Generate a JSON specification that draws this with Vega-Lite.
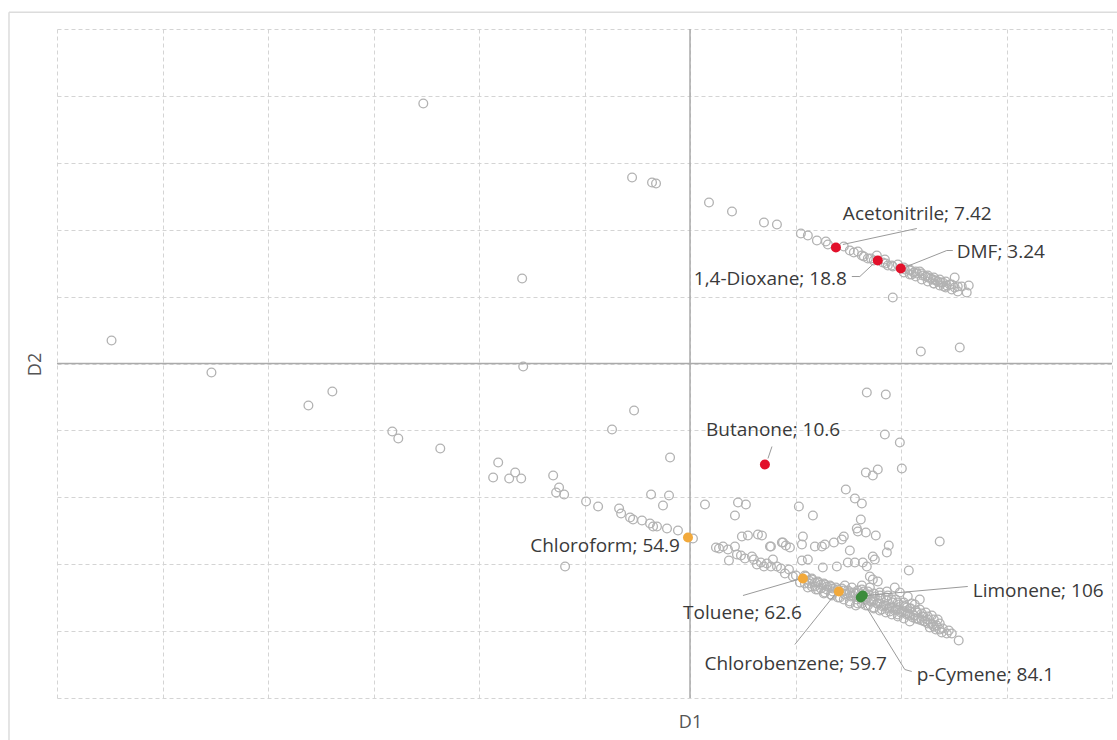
{
  "$schema": "https://vega.github.io/schema/vega-lite/v6.json",
  "width": 1055,
  "height": 669,
  "autosize": {"type": "none"},
  "padding": {"left": 57, "top": 29, "right": 5, "bottom": 42},
  "background": "white",
  "config": {"view": {"stroke": null}},
  "datasets": {
    "points": [
      {"x": -5.483, "y": 0.344}, {"x": -4.536, "y": -0.135}, {"x": -3.617, "y": -0.628}, {"x": -3.39, "y": -0.419},
      {"x": -2.528, "y": 3.886}, {"x": -1.591, "y": 1.271}, {"x": -1.581, "y": -0.045}, {"x": -2.822, "y": -1.016},
      {"x": -2.765, "y": -1.121}, {"x": -2.367, "y": -1.271}, {"x": -1.818, "y": -1.48}, {"x": -1.866, "y": -1.704},
      {"x": -1.714, "y": -1.719}, {"x": -1.657, "y": -1.629}, {"x": -1.6, "y": -1.719}, {"x": -1.297, "y": -1.674},
      {"x": -1.241, "y": -1.853}, {"x": -1.269, "y": -1.928}, {"x": -1.193, "y": -1.958}, {"x": -0.985, "y": -2.063},
      {"x": -0.871, "y": -2.138}, {"x": -0.739, "y": -0.987}, {"x": -0.53, "y": -0.703}, {"x": -0.189, "y": -1.405},
      {"x": -0.369, "y": -1.958}, {"x": -0.199, "y": -1.973}, {"x": -0.256, "y": -2.123}, {"x": -0.672, "y": -2.167},
      {"x": -0.653, "y": -2.242}, {"x": -0.568, "y": -2.302}, {"x": -0.54, "y": -2.332}, {"x": -0.455, "y": -2.347},
      {"x": -0.379, "y": -2.392}, {"x": -0.35, "y": -2.436}, {"x": -0.313, "y": -2.436}, {"x": -0.218, "y": -2.466},
      {"x": -0.114, "y": -2.496}, {"x": -1.184, "y": -3.034}, {"x": 0.028, "y": -2.616},
      {"x": -0.549, "y": 2.78}, {"x": -0.36, "y": 2.706}, {"x": -0.322, "y": 2.691}, {"x": 0.18, "y": 2.407},
      {"x": 0.398, "y": 2.272}, {"x": 0.701, "y": 2.108}, {"x": 0.824, "y": 2.078}, {"x": 1.051, "y": 1.943},
      {"x": 1.117, "y": 1.913}, {"x": 1.203, "y": 1.839}, {"x": 1.288, "y": 1.824}, {"x": 1.307, "y": 1.779},
      {"x": 1.458, "y": 1.749}, {"x": 1.515, "y": 1.689}, {"x": 1.553, "y": 1.659}, {"x": 1.591, "y": 1.674},
      {"x": 1.714, "y": 1.57}, {"x": 1.771, "y": 1.614}, {"x": 1.828, "y": 1.51}, {"x": 1.875, "y": 1.465},
      {"x": 1.922, "y": 1.45}, {"x": 1.97, "y": 1.48}, {"x": 2.036, "y": 1.405}, {"x": 2.083, "y": 1.39},
      {"x": 2.121, "y": 1.36}, {"x": 2.15, "y": 1.345}, {"x": 2.178, "y": 1.375}, {"x": 2.206, "y": 1.315},
      {"x": 2.235, "y": 1.3}, {"x": 2.254, "y": 1.286}, {"x": 2.282, "y": 1.271}, {"x": 2.301, "y": 1.256},
      {"x": 2.33, "y": 1.241}, {"x": 2.348, "y": 1.226}, {"x": 2.377, "y": 1.211}, {"x": 2.396, "y": 1.211},
      {"x": 2.434, "y": 1.166}, {"x": 2.462, "y": 1.181}, {"x": 2.509, "y": 1.286}, {"x": 2.509, "y": 1.136},
      {"x": 2.576, "y": 1.151}, {"x": 2.642, "y": 1.166}, {"x": 2.623, "y": 1.061}, {"x": 1.922, "y": 0.987},
      {"x": 2.188, "y": 0.179}, {"x": 2.557, "y": 0.239}, {"x": 2.102, "y": 1.33}, {"x": 2.311, "y": 1.196},
      {"x": 2.405, "y": 1.151}, {"x": 1.847, "y": 1.555}, {"x": 1.648, "y": 1.599},
      {"x": 2.027, "y": 1.435}, {"x": 2.027, "y": 1.36}, {"x": 2.083, "y": 1.405}, {"x": 2.083, "y": 1.33},
      {"x": 2.14, "y": 1.375}, {"x": 2.14, "y": 1.3}, {"x": 2.197, "y": 1.345}, {"x": 2.197, "y": 1.256},
      {"x": 2.254, "y": 1.315}, {"x": 2.254, "y": 1.226}, {"x": 2.311, "y": 1.286}, {"x": 2.311, "y": 1.196},
      {"x": 2.367, "y": 1.256}, {"x": 2.367, "y": 1.166}, {"x": 2.424, "y": 1.226}, {"x": 2.424, "y": 1.136},
      {"x": 2.481, "y": 1.181}, {"x": 2.481, "y": 1.106}, {"x": 2.538, "y": 1.151}, {"x": 2.538, "y": 1.076},
      {"x": 1.629, "y": 1.614}, {"x": 1.686, "y": 1.57}, {"x": 1.742, "y": 1.54}, {"x": 1.856, "y": 1.495},
      {"x": 1.913, "y": 1.465},
      {"x": 1.676, "y": -0.433}, {"x": 1.856, "y": -0.463}, {"x": 1.847, "y": -1.061}, {"x": 1.989, "y": -1.181},
      {"x": 2.008, "y": -1.57}, {"x": 1.667, "y": -1.629}, {"x": 1.733, "y": -1.674}, {"x": 1.78, "y": -1.584},
      {"x": 1.477, "y": -1.883}, {"x": 1.563, "y": -2.018}, {"x": 1.629, "y": -2.093}, {"x": 1.619, "y": -2.332},
      {"x": 1.581, "y": -2.466}, {"x": 1.591, "y": -2.511}, {"x": 1.667, "y": -2.526}, {"x": 1.761, "y": -2.571},
      {"x": 2.367, "y": -2.661}, {"x": 1.032, "y": -2.138}, {"x": 1.165, "y": -2.272}, {"x": 1.439, "y": -2.631},
      {"x": 1.458, "y": -2.586}, {"x": 1.364, "y": -2.676}, {"x": 1.278, "y": -2.706}, {"x": 1.184, "y": -2.735},
      {"x": 1.25, "y": -2.735}, {"x": 1.07, "y": -2.586}, {"x": 1.061, "y": -2.706}, {"x": 0.947, "y": -2.75},
      {"x": 0.881, "y": -2.676}, {"x": 0.758, "y": -2.735}, {"x": 1.515, "y": -2.795}, {"x": 1.866, "y": -2.825},
      {"x": 1.884, "y": -2.72}, {"x": 1.733, "y": -2.885}, {"x": 1.752, "y": -2.93}, {"x": 1.638, "y": -2.975},
      {"x": 1.676, "y": -3.034}, {"x": 1.563, "y": -2.975}, {"x": 1.496, "y": -2.975}, {"x": 1.392, "y": -3.034},
      {"x": 1.259, "y": -3.049}, {"x": 1.117, "y": -2.93}, {"x": 1.061, "y": -2.945}, {"x": 2.074, "y": -3.094},
      {"x": 1.705, "y": -3.184}, {"x": 1.733, "y": -3.229}, {"x": 1.78, "y": -3.259}, {"x": 1.941, "y": -3.348},
      {"x": 1.866, "y": -3.408}, {"x": 1.989, "y": -3.423}, {"x": 2.064, "y": -3.483}, {"x": 2.131, "y": -3.602},
      {"x": 2.178, "y": -3.528}, {"x": 2.055, "y": -3.647}, {"x": 2.15, "y": -3.722}, {"x": 2.206, "y": -3.782},
      {"x": 2.254, "y": -3.827}, {"x": 2.301, "y": -3.901}, {"x": 2.386, "y": -4.021}, {"x": 2.434, "y": -4.036},
      {"x": 2.481, "y": -4.036}, {"x": 2.547, "y": -4.14}, {"x": 0.142, "y": -2.108}, {"x": 0.455, "y": -2.078},
      {"x": 0.53, "y": -2.108}, {"x": 0.426, "y": -2.272}, {"x": 0.492, "y": -2.586}, {"x": 0.549, "y": -2.571},
      {"x": 0.644, "y": -2.556}, {"x": 0.682, "y": -2.571}, {"x": 0.767, "y": -2.735}, {"x": 0.871, "y": -2.676},
      {"x": 0.909, "y": -2.72}, {"x": 0.246, "y": -2.75}, {"x": 0.275, "y": -2.765}, {"x": 0.313, "y": -2.735},
      {"x": 0.36, "y": -2.78}, {"x": 0.426, "y": -2.735}, {"x": 0.445, "y": -2.855}, {"x": 0.483, "y": -2.87},
      {"x": 0.369, "y": -2.945}, {"x": 0.587, "y": -2.885}, {"x": 0.606, "y": -2.93}, {"x": 0.672, "y": -2.975},
      {"x": 0.729, "y": -2.99}, {"x": 0.786, "y": -2.93}, {"x": 0.767, "y": -3.034}, {"x": 0.824, "y": -3.034},
      {"x": 0.862, "y": -3.064}, {"x": 0.938, "y": -3.079}, {"x": 0.975, "y": -3.184}, {"x": 0.521, "y": -2.915},
      {"x": 0.634, "y": -3.004}, {"x": 0.701, "y": -3.034}, {"x": 0.9, "y": -3.139},
      {"x": 1.004, "y": -3.169}, {"x": 1.042, "y": -3.274}, {"x": 1.098, "y": -3.184}, {"x": 1.127, "y": -3.288},
      {"x": 1.155, "y": -3.229}, {"x": 1.184, "y": -3.333}, {"x": 1.212, "y": -3.259}, {"x": 1.241, "y": -3.363},
      {"x": 1.269, "y": -3.288}, {"x": 1.297, "y": -3.378}, {"x": 1.326, "y": -3.318}, {"x": 1.354, "y": -3.408},
      {"x": 1.383, "y": -3.348}, {"x": 1.439, "y": -3.363}, {"x": 1.468, "y": -3.453}, {"x": 1.496, "y": -3.393},
      {"x": 1.525, "y": -3.483}, {"x": 1.553, "y": -3.423}, {"x": 1.581, "y": -3.528}, {"x": 1.468, "y": -3.318},
      {"x": 1.534, "y": -3.348}, {"x": 1.591, "y": -3.393}, {"x": 1.648, "y": -3.408}, {"x": 1.667, "y": -3.528},
      {"x": 1.695, "y": -3.453}, {"x": 1.723, "y": -3.558}, {"x": 1.752, "y": -3.483}, {"x": 1.78, "y": -3.587},
      {"x": 1.809, "y": -3.513}, {"x": 1.837, "y": -3.617}, {"x": 1.866, "y": -3.543}, {"x": 1.894, "y": -3.647},
      {"x": 1.922, "y": -3.572}, {"x": 1.951, "y": -3.677}, {"x": 1.979, "y": -3.602}, {"x": 2.008, "y": -3.707},
      {"x": 2.036, "y": -3.632}, {"x": 2.064, "y": -3.737}, {"x": 2.093, "y": -3.662}, {"x": 2.121, "y": -3.767},
      {"x": 1.799, "y": -3.423}, {"x": 1.875, "y": -3.468}, {"x": 1.951, "y": -3.528}, {"x": 2.027, "y": -3.572},
      {"x": 1.705, "y": -3.348}, {"x": 1.629, "y": -3.318}, {"x": 2.102, "y": -3.587}, {"x": 2.178, "y": -3.677},
      {"x": 2.235, "y": -3.722}, {"x": 2.292, "y": -3.767}, {"x": 2.348, "y": -3.827}, {"x": 2.159, "y": -3.812},
      {"x": 2.225, "y": -3.857}, {"x": 2.273, "y": -3.946}, {"x": 2.33, "y": -3.976}, {"x": 1.515, "y": -3.558},
      {"x": 1.591, "y": -3.587}, {"x": 1.667, "y": -3.617}, {"x": 1.742, "y": -3.647}, {"x": 1.818, "y": -3.677},
      {"x": 1.894, "y": -3.707}, {"x": 1.97, "y": -3.752}, {"x": 1.42, "y": -3.498}, {"x": 1.345, "y": -3.468},
      {"x": 1.269, "y": -3.438}, {"x": 1.193, "y": -3.378}, {"x": 1.117, "y": -3.348},
      {"x": 1.089, "y": -3.169}, {"x": 1.089, "y": -3.288}, {"x": 1.155, "y": -3.214}, {"x": 1.155, "y": -3.333},
      {"x": 1.212, "y": -3.274}, {"x": 1.212, "y": -3.378}, {"x": 1.278, "y": -3.303}, {"x": 1.278, "y": -3.423},
      {"x": 1.335, "y": -3.333}, {"x": 1.335, "y": -3.453}, {"x": 1.402, "y": -3.378}, {"x": 1.402, "y": -3.498},
      {"x": 1.458, "y": -3.393}, {"x": 1.458, "y": -3.528}, {"x": 1.515, "y": -3.423}, {"x": 1.515, "y": -3.587},
      {"x": 1.572, "y": -3.438}, {"x": 1.572, "y": -3.617}, {"x": 1.629, "y": -3.378}, {"x": 1.629, "y": -3.468},
      {"x": 1.629, "y": -3.587}, {"x": 1.686, "y": -3.408}, {"x": 1.686, "y": -3.498}, {"x": 1.686, "y": -3.617},
      {"x": 1.742, "y": -3.438}, {"x": 1.742, "y": -3.543}, {"x": 1.742, "y": -3.662}, {"x": 1.799, "y": -3.468},
      {"x": 1.799, "y": -3.587}, {"x": 1.799, "y": -3.692}, {"x": 1.856, "y": -3.498}, {"x": 1.856, "y": -3.617},
      {"x": 1.856, "y": -3.722}, {"x": 1.913, "y": -3.528}, {"x": 1.913, "y": -3.647}, {"x": 1.913, "y": -3.752},
      {"x": 1.97, "y": -3.572}, {"x": 1.97, "y": -3.677}, {"x": 1.97, "y": -3.782}, {"x": 2.027, "y": -3.617},
      {"x": 2.027, "y": -3.722}, {"x": 2.027, "y": -3.812}, {"x": 2.083, "y": -3.662}, {"x": 2.083, "y": -3.767},
      {"x": 2.083, "y": -3.857}, {"x": 2.14, "y": -3.692}, {"x": 2.14, "y": -3.812}, {"x": 2.197, "y": -3.737},
      {"x": 2.197, "y": -3.842}, {"x": 2.254, "y": -3.782}, {"x": 2.254, "y": -3.886}, {"x": 2.311, "y": -3.827},
      {"x": 2.311, "y": -3.931}, {"x": 2.367, "y": -3.886}, {"x": 2.367, "y": -3.976},
      {"x": 1.127, "y": -3.244}, {"x": 1.184, "y": -3.274}, {"x": 1.241, "y": -3.303}, {"x": 1.297, "y": -3.333},
      {"x": 1.354, "y": -3.363}, {"x": 1.487, "y": -3.438}, {"x": 1.544, "y": -3.468}, {"x": 1.6, "y": -3.498},
      {"x": 1.657, "y": -3.528}, {"x": 1.714, "y": -3.558}, {"x": 1.771, "y": -3.587}, {"x": 1.828, "y": -3.632},
      {"x": 1.884, "y": -3.662}, {"x": 1.941, "y": -3.692}, {"x": 1.998, "y": -3.722}, {"x": 2.055, "y": -3.752},
      {"x": 2.112, "y": -3.797}, {"x": 2.169, "y": -3.827}, {"x": 2.225, "y": -3.857}, {"x": 2.282, "y": -3.886},
      {"x": 2.339, "y": -3.916}, {"x": 2.396, "y": -3.961}, {"x": 2.453, "y": -3.991}
    ],
    "solvents": [
      {"name": "Acetonitrile", "value": 7.42, "class": "A", "x": 1.383, "y": 1.734},
      {"name": "1,4-Dioxane", "value": 18.8, "class": "A", "x": 1.78, "y": 1.54},
      {"name": "DMF", "value": 3.24, "class": "A", "x": 1.998, "y": 1.42},
      {"name": "Butanone", "value": 10.6, "class": "A", "x": 0.71, "y": -1.51},
      {"name": "Chloroform", "value": 54.9, "class": "B", "x": -0.019, "y": -2.601},
      {"name": "Toluene", "value": 62.6, "class": "B", "x": 1.07, "y": -3.214},
      {"name": "Chlorobenzene", "value": 59.7, "class": "B", "x": 1.411, "y": -3.408},
      {"name": "p-Cymene", "value": 84.1, "class": "C", "x": 1.619, "y": -3.498},
      {"name": "Limonene", "value": 106, "class": "C", "x": 1.638, "y": -3.468}
    ],
    "labelsLeft": [
      {"label": "Acetonitrile; 7.42", "x": 1.449, "y": 2.138},
      {"label": "DMF; 3.24", "x": 2.528, "y": 1.584},
      {"label": "Butanone; 10.6", "x": 0.152, "y": -1.091},
      {"label": "Limonene; 106", "x": 2.68, "y": -3.483},
      {"label": "p-Cymene; 84.1", "x": 2.15, "y": -4.753}
    ],
    "labelsRight": [
      {"label": "1,4-Dioxane; 18.8", "x": 1.487, "y": 1.166},
      {"label": "Chloroform; 54.9", "x": -0.095, "y": -2.825},
      {"label": "Toluene; 62.6", "x": 1.061, "y": -3.812},
      {"label": "Chlorobenzene; 59.7", "x": 1.866, "y": -4.574}
    ],
    "leaders": [
      {"name": "Acetonitrile", "step": 1, "x": 1.449, "y": 1.779},
      {"name": "Acetonitrile", "step": 2, "x": 2.15, "y": 2.018},
      {"name": "DMF", "step": 1, "x": 2.055, "y": 1.45},
      {"name": "DMF", "step": 2, "x": 2.434, "y": 1.689},
      {"name": "DMF", "step": 3, "x": 2.491, "y": 1.689},
      {"name": "1,4-Dioxane", "step": 1, "x": 1.534, "y": 1.3},
      {"name": "1,4-Dioxane", "step": 2, "x": 1.61, "y": 1.3},
      {"name": "1,4-Dioxane", "step": 3, "x": 1.742, "y": 1.495},
      {"name": "Butanone", "step": 1, "x": 0.777, "y": -1.241},
      {"name": "Butanone", "step": 2, "x": 0.739, "y": -1.42},
      {"name": "Toluene", "step": 1, "x": 0.502, "y": -3.468},
      {"name": "Toluene", "step": 2, "x": 1.023, "y": -3.229},
      {"name": "Chlorobenzene", "step": 1, "x": 0.994, "y": -4.2},
      {"name": "Chlorobenzene", "step": 2, "x": 1.373, "y": -3.453},
      {"name": "Limonene", "step": 1, "x": 2.633, "y": -3.333},
      {"name": "Limonene", "step": 2, "x": 1.667, "y": -3.468},
      {"name": "p-Cymene", "step": 1, "x": 1.638, "y": -3.558},
      {"name": "p-Cymene", "step": 2, "x": 2.036, "y": -4.574},
      {"name": "p-Cymene", "step": 3, "x": 2.102, "y": -4.604}
    ]
  },
  "layer": [
    {
      "data": {"values": [{}]},
      "mark": {"type": "rule", "color": "#dcdcdc", "strokeWidth": 1.5, "clip": false},
      "encoding": {"x": {"datum": -6.455, "type": "quantitative"}, "x2": {"datum": 4.2}, "y": {"datum": 5.251, "type": "quantitative"}}
    },
    {
      "data": {"values": [{}]},
      "mark": {"type": "rule", "color": "#dcdcdc", "strokeWidth": 1.5, "clip": false},
      "encoding": {"x": {"datum": -6.455, "type": "quantitative"}, "y": {"datum": 5.251, "type": "quantitative"}, "y2": {"datum": -5.8}}
    },
    {
      "data": {"values": [{}]},
      "mark": {"type": "rule", "color": "#aaaaaa", "strokeWidth": 1.5},
      "encoding": {"x": {"datum": 0, "type": "quantitative"}}
    },
    {
      "data": {"values": [{}]},
      "mark": {"type": "rule", "color": "#aaaaaa", "strokeWidth": 1.5},
      "encoding": {"y": {"datum": 0, "type": "quantitative"}}
    },
    {
      "data": {"name": "points"},
      "mark": {"type": "point", "shape": "circle", "filled": false, "stroke": "#b2b2b2", "strokeWidth": 1.3, "size": 76, "opacity": 1},
      "encoding": {
        "x": {"field": "x", "type": "quantitative", "scale": {"domain": [-6, 4], "nice": false, "zero": false},
          "axis": {"title": "D1", "grid": true, "gridDash": [4, 3], "gridColor": "#d4d4d4", "gridWidth": 1, "labels": false, "ticks": false, "domain": false,
            "values": [-6, -5, -4, -3, -2, -1, 0, 1, 2, 3, 4], "titleX": 633, "titleY": 24, "titleBaseline": "middle", "titleAlign": "center",
            "titleFont": "Open Sans", "titleFontSize": 18, "titleFontWeight": "normal", "titleColor": "#555555"}},
        "y": {"field": "y", "type": "quantitative", "scale": {"domain": [-5, 5], "nice": false, "zero": false},
          "axis": {"title": "D2", "grid": true, "gridDash": [4, 3], "gridColor": "#d4d4d4", "gridWidth": 1, "labels": false, "ticks": false, "domain": false,
            "values": [-5, -4, -3, -2, -1, 0, 1, 2, 3, 4, 5], "titleX": -22, "titleY": 335, "titleAngle": -90, "titleBaseline": "middle", "titleAlign": "center",
            "titleFont": "Open Sans", "titleFontSize": 18, "titleFontWeight": "normal", "titleColor": "#555555"}}
      }
    },
    {
      "data": {"name": "leaders"},
      "mark": {"type": "line", "color": "#9a9a9a", "strokeWidth": 1},
      "encoding": {
        "x": {"field": "x", "type": "quantitative"},
        "y": {"field": "y", "type": "quantitative"},
        "detail": {"field": "name"},
        "order": {"field": "step", "type": "quantitative"}
      }
    },
    {
      "data": {"name": "solvents"},
      "mark": {"type": "circle", "size": 100, "opacity": 1},
      "encoding": {
        "x": {"field": "x", "type": "quantitative"},
        "y": {"field": "y", "type": "quantitative"},
        "color": {"field": "class", "type": "nominal", "scale": {"domain": ["A", "B", "C"], "range": ["#e2102a", "#f2a93b", "#3c8c3c"]}, "legend": null}
      }
    },
    {
      "data": {"name": "labelsLeft"},
      "mark": {"type": "text", "align": "left", "baseline": "alphabetic", "font": "Open Sans", "fontSize": 19, "color": "#3a3a3a"},
      "encoding": {"x": {"field": "x", "type": "quantitative"}, "y": {"field": "y", "type": "quantitative"}, "text": {"field": "label"}}
    },
    {
      "data": {"name": "labelsRight"},
      "mark": {"type": "text", "align": "right", "baseline": "alphabetic", "font": "Open Sans", "fontSize": 19, "color": "#3a3a3a"},
      "encoding": {"x": {"field": "x", "type": "quantitative"}, "y": {"field": "y", "type": "quantitative"}, "text": {"field": "label"}}
    }
  ]
}
